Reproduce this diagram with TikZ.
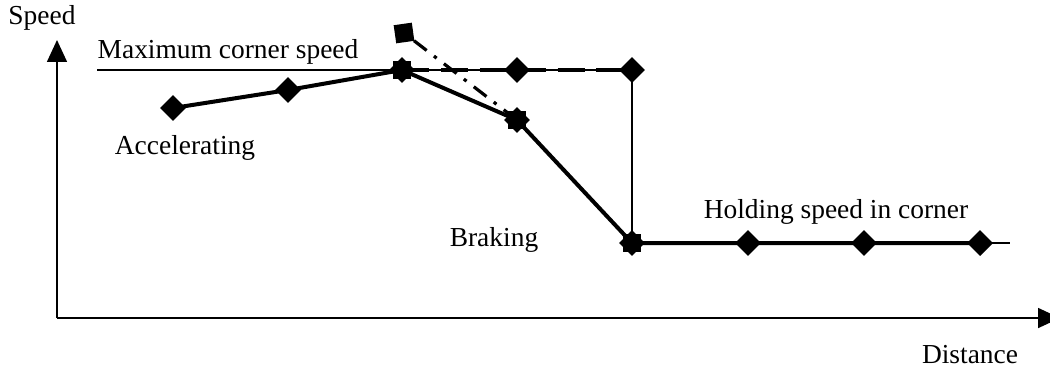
\documentclass[tikz,border=0pt]{standalone}
\usepackage{fontspec}
\setmainfont{Liberation Serif}
\usetikzlibrary{arrows.meta,shapes.geometric,positioning}

\begin{document}
\begin{tikzpicture}[x=0.01536cm,y=-0.01536cm,
  font=\fontsize{12}{14}\selectfont,
  every node/.style={inner sep=0pt},
  dmd/.style={diamond,fill=black,minimum size=11.5pt},
  sqr/.style={rectangle,fill=black,minimum size=7.5pt},
  axis/.style={line width=0.8pt,-{Triangle[length=9.6pt,width=8.7pt]}},
  thin line/.style={line width=0.8pt},
  thick line/.style={line width=1.75pt}]
\useasboundingbox (0,0) rectangle (1050,367);
% axes
\coordinate (o) at (57,318);
\coordinate (ytop) at (57,40);
\coordinate (xend) at (1060,318);
\draw[axis] (o) -- (ytop);
\draw[axis] (o) -- (xend);
\node (speed) at (42,18) {Speed};
\node (dist) at (970,355) {Distance};
% limit line
\coordinate (lim0) at (97,70);
\coordinate (lim1) at (1010,243);
% markers
\node[dmd] (a1) at (173,108) {};
\node[dmd] (a2) at (288,90) {};
\node[dmd] (a3) at (402,70) {};
\node[sqr] at (a3) {};
\node[dmd] (b1) at (517,120) {};
\node[sqr] at (b1) {};
\node[dmd] (b2) at (632,243) {};
\node[sqr] at (b2) {};
\node[dmd] (h1) at (748,243) {};
\node[dmd] (h2) at (864,243) {};
\node[dmd] (h3) at (980,243) {};
\node[dmd] (m1) at (517,70) {};
\node[dmd] (m2) at (632,70) {};
\node[sqr,minimum size=8pt,rotate=8] (late) at (404,33) {};
% lines
\draw[thin line] (lim0) -| (b2.center) -- (lim1);
\draw[thick line] (a1.center) -- (a2.center) -- (a3.center) -- (b1.center)
  -- (b2.center) -- (h1.center) -- (h2.center) -- (h3.center);
\draw[thick line,dash pattern=on 12pt off 5pt] (a3.center) -- (m1.center) -- (m2.center);
\draw[line width=1.4pt,dash pattern=on 1.5pt off 4pt on 7pt off 4pt] (late.center) -- (b1.center);
% labels
\node (maxl) at (228,52) {Maximum corner speed};
\node (accl) at (185,148) {Accelerating};
\node (brkl) at (494,240) {Braking};
\node (hldl) at (836,212) {Holding speed in corner};
\end{tikzpicture}
\end{document}
